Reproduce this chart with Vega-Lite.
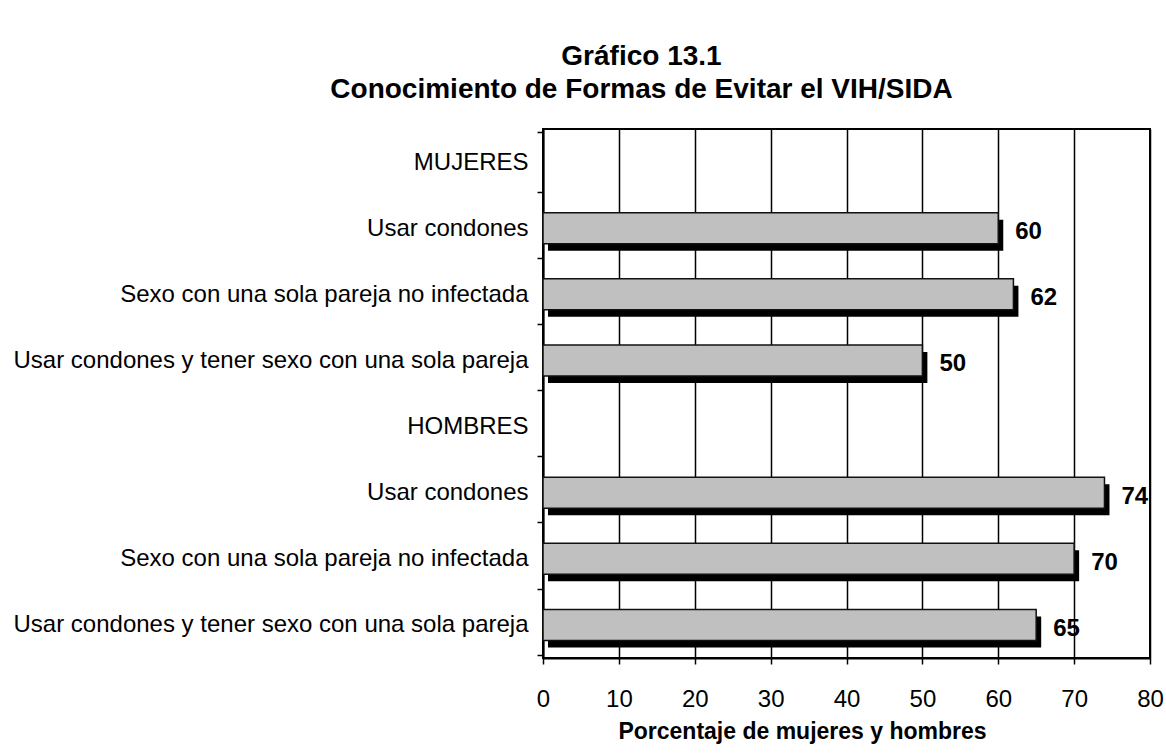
{
  "$schema": "https://vega.github.io/schema/vega-lite/v6.json",
  "width": 607,
  "height": 529,
  "autosize": {"type": "none"},
  "padding": {"left": 543, "top": 129, "right": 16, "bottom": 95},
  "background": "white",
  "config": {
    "view": {"stroke": "black", "strokeWidth": 2},
    "font": "Liberation Sans"
  },
  "title": {
    "text": ["Gráfico 13.1", "Conocimiento de Formas de Evitar el VIH/SIDA"],
    "font": "Liberation Sans",
    "fontSize": 28,
    "fontWeight": "bold",
    "color": "black",
    "anchor": "middle",
    "dx": -205,
    "offset": 13,
    "lineHeight": 33
  },
  "data": {
    "values": [
      {"cat": "MUJERES|0", "value": null},
      {"cat": "Usar condones|M1", "value": 60},
      {"cat": "Sexo con una sola pareja no infectada|M2", "value": 62},
      {"cat": "Usar condones y tener sexo con una sola pareja|M3", "value": 50},
      {"cat": "HOMBRES|0b", "value": null},
      {"cat": "Usar condones|H1", "value": 74},
      {"cat": "Sexo con una sola pareja no infectada|H2", "value": 70},
      {"cat": "Usar condones y tener sexo con una sola pareja|H3", "value": 65}
    ]
  },
  "encoding": {
    "y": {
      "field": "cat",
      "type": "nominal",
      "sort": null,
      "scale": {
        "domain": ["MUJERES|0", "Usar condones|M1", "Sexo con una sola pareja no infectada|M2", "Usar condones y tener sexo con una sola pareja|M3", "HOMBRES|0b", "Usar condones|H1", "Sexo con una sola pareja no infectada|H2", "Usar condones y tener sexo con una sola pareja|H3"]
      },
      "axis": {
        "title": null,
        "labelExpr": "isValid(datum.value) ? split(datum.value, '|')[0] : ''",
        "labelFont": "Liberation Sans",
        "labelFontSize": 24,
        "labelColor": "black",
        "labelPadding": 9,
        "labelLimit": 0,
        "tickSize": 6,
        "tickColor": "black",
        "tickWidth": 1.5,
        "tickBand": "extent",
        "domainColor": "black",
        "domainWidth": 2,
        "grid": false
      }
    },
    "x": {
      "field": "value",
      "type": "quantitative",
      "scale": {"domain": [0, 80], "nice": false},
      "axis": {
        "values": [0, 10, 20, 30, 40, 50, 60, 70, 80],
        "title": "Porcentaje de mujeres y hombres",
        "titleFont": "Liberation Sans",
        "titleFontSize": 23,
        "titleFontWeight": "bold",
        "titleColor": "black",
        "titlePadding": 9,
        "titleX": 259,
        "labelFont": "Liberation Sans",
        "labelFontSize": 24,
        "labelColor": "black",
        "labelPadding": 23,
        "labelFlush": false,
        "tickSize": 6,
        "tickColor": "black",
        "tickWidth": 1.5,
        "domainColor": "black",
        "domainWidth": 2,
        "grid": true,
        "gridColor": "black",
        "gridWidth": 1.5,
        "gridOpacity": 1
      }
    }
  },
  "layer": [
    {
      "mark": {"type": "bar", "color": "black", "size": 31, "xOffset": 5, "x2Offset": 6, "yOffset": 7, "y2Offset": 7}
    },
    {
      "mark": {"type": "bar", "fill": "#c0c0c0", "stroke": "#111111", "strokeWidth": 1.5, "size": 31}
    },
    {
      "mark": {"type": "text", "align": "left", "baseline": "middle", "dx": 17, "dy": 4, "fontSize": 24, "fontWeight": "bold", "font": "Liberation Sans", "color": "black"},
      "encoding": {"text": {"field": "value", "type": "quantitative"}}
    }
  ]
}
